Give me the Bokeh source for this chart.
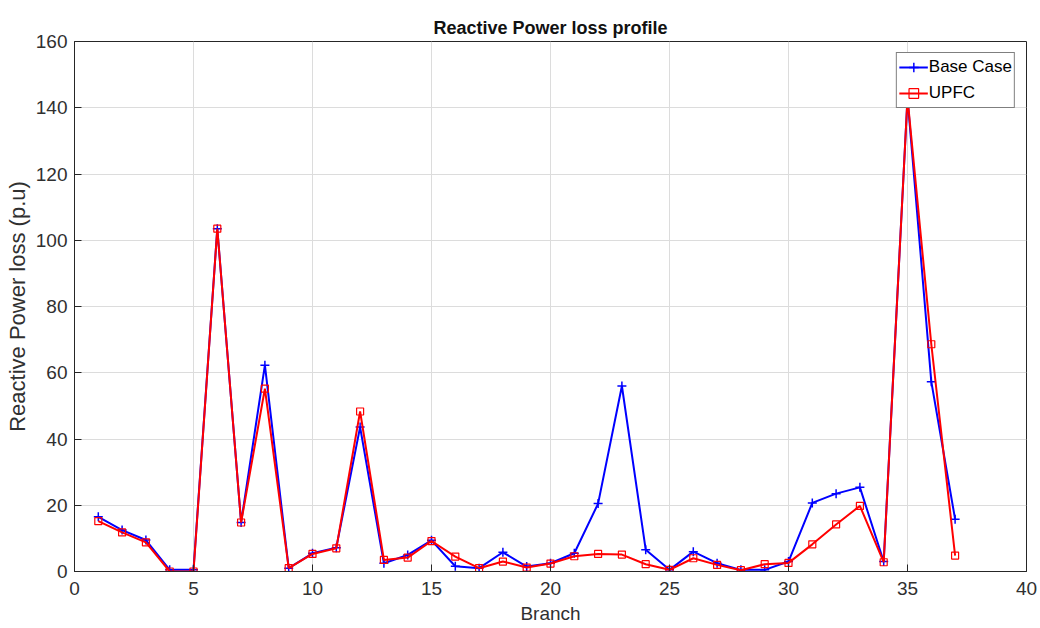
from bokeh.plotting import figure
from bokeh.models import Range1d, FixedTicker
from bokeh.embed import file_html
from bokeh.resources import INLINE

branch = list(range(1, 38))
base_case = [16.5, 12.5, 9.5, 0.5, 0.5, 103.5, 14.8, 62.3, 1.0, 5.5,
             7.2, 43.6, 2.5, 5.0, 9.4, 1.6, 1.0, 5.8, 1.5, 2.5,
             5.5, 20.5, 56.0, 6.6, 0.5, 6.0, 2.5, 0.5, 0.5, 3.0,
             20.7, 23.5, 25.4, 3.0, 143.0, 57.3, 15.8]
upfc = [15.2, 11.8, 8.8, 0.0, 0.0, 103.5, 14.8, 55.2, 1.0, 5.3,
        7.0, 48.3, 3.5, 4.2, 9.2, 4.5, 1.0, 3.0, 1.2, 2.4,
        4.6, 5.3, 5.1, 2.2, 0.5, 4.0, 2.0, 0.4, 2.2, 2.6,
        8.2, 14.2, 19.8, 2.8, 143.0, 68.6, 4.8]
x_ticks = list(range(0, 41, 5))
y_ticks = list(range(0, 161, 20))

FONT = "Liberation Sans"
AX = "#262626"

p = figure(width=1040, height=628, output_backend="svg", toolbar_location=None,
           x_range=Range1d(0, 40), y_range=Range1d(0, 160),
           title="Reactive Power loss profile",
           min_border_left=74, min_border_right=14, min_border_top=41, min_border_bottom=57)

p.title.align = "center"
p.title.text_font = FONT
p.title.text_font_size = "18px"
p.title.text_font_style = "bold"
p.title.text_color = "#111111"
p.title.offset = 0
p.title.standoff = 8

p.outline_line_color = AX
p.outline_line_width = 1

for ax in (p.xaxis[0], p.yaxis[0]):
    ax.axis_line_color = AX
    ax.major_tick_line_color = AX
    ax.major_tick_in = 7
    ax.major_tick_out = 0
    ax.minor_tick_line_color = None
    ax.major_label_text_font = FONT
    ax.major_label_text_font_size = "19px"
    ax.major_label_text_color = "#303030"
    ax.axis_label_text_font = FONT
    ax.axis_label_text_font_style = "normal"
    ax.axis_label_text_color = "#303030"

p.xaxis.axis_label_text_font_size = "19px"
p.yaxis.axis_label_text_font_size = "22px"
p.xaxis.ticker = FixedTicker(ticks=x_ticks)
p.yaxis.ticker = FixedTicker(ticks=y_ticks)
p.xaxis.axis_label = "Branch"
p.yaxis.axis_label = "Reactive Power loss (p.u)"
p.xaxis.major_label_standoff = 10
p.yaxis.major_label_standoff = 7
p.xaxis.axis_label_standoff = 5
p.yaxis.axis_label_standoff = 3

p.grid.grid_line_color = "#dcdcdc"
p.grid.grid_line_width = 1

p.line(branch, base_case, line_color="#0000ff", line_width=2, legend_label="Base Case")
p.scatter(branch, base_case, marker="cross", size=9, line_color="#0000ff", line_width=1.5,
          legend_label="Base Case")
p.line(branch, upfc, line_color="#ff0000", line_width=2, legend_label="UPFC")
p.scatter(branch, upfc, marker="square", size=7, line_color="#ff0000", fill_color=None,
          line_width=1.2, legend_label="UPFC")

lg = p.legend[0]
lg.location = "top_right"
lg.margin = 11
lg.padding = 2
lg.spacing = 2
lg.border_line_color = "#000000"
lg.border_line_width = 1
lg.label_text_font = FONT
lg.label_text_font_size = "17px"
lg.label_text_color = "#000000"
lg.glyph_width = 29
lg.glyph_height = 24
lg.label_height = 24
lg.label_standoff = 1
lg.background_fill_alpha = 1.0

open("out.html", "w").write(file_html(p, INLINE))
